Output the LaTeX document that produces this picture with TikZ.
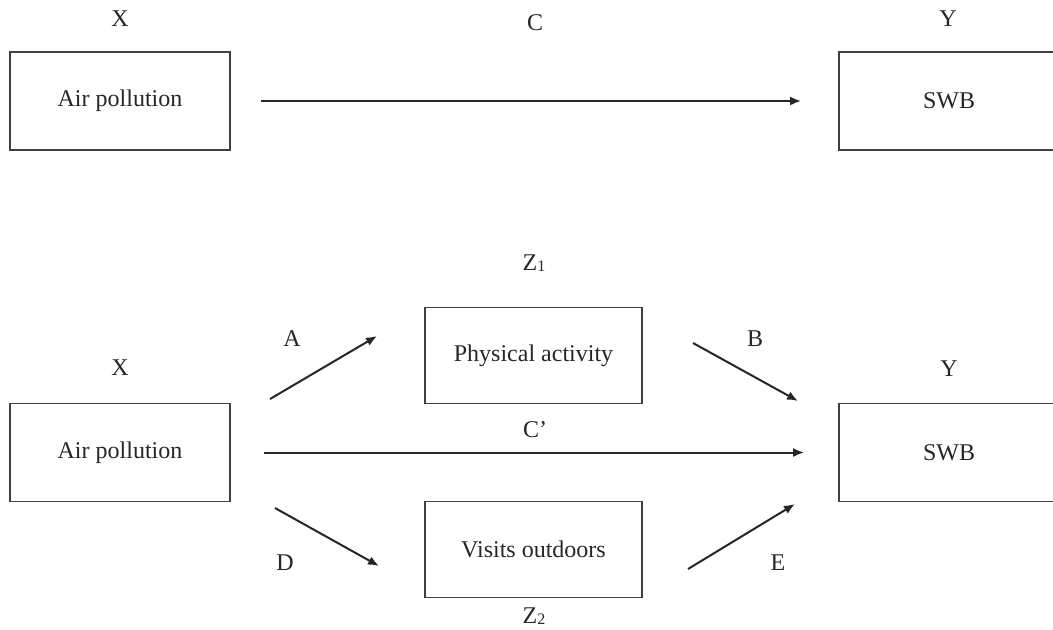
\documentclass[tikz,border=0pt]{standalone}
\usepackage{fontspec}
\setmainfont{Liberation Serif}
\usetikzlibrary{arrows.meta}
\begin{document}
\begin{tikzpicture}[x=0.5pt,y=-0.5pt,
  every node/.style={font=\fontsize{12}{14}\selectfont, text=black!85},
  box/.style={draw=black!75, line width=0.9pt, rectangle, minimum width=110pt, minimum height=49pt, inner sep=0pt},
  midbox/.style={box, minimum width=108.5pt, minimum height=48pt},
  lab/.style={inner sep=0pt},
  arr/.style={draw=black!85, line width=1pt, -{Latex[length=5.5pt,width=4.5pt]}}
]
\useasboundingbox (0,0) rectangle (1053,629);
% top diagram
\node[box] (air1) at (120,101) {Air pollution};
\node[box] (swb1) at (949,101) {SWB};
\node[lab] (x1) at (120,19) {X};
\node[lab] (y1) at (948,19) {Y};
\node[lab] (c) at (535,23) {C};
\draw[arr, shorten <=15pt, shorten >=18.5pt] (air1) -- (swb1);
% bottom diagram
\node[box] (air2) at (120,452.5) {Air pollution};
\node[box] (swb2) at (949,452.5) {SWB};
\node[midbox] (pa) at (533.5,355.5) {Physical activity};
\node[midbox] (vo) at (533.5,549.5) {Visits outdoors};
\node[lab] (x2) at (120,368) {X};
\node[lab] (y2) at (949,369) {Y};
\node[lab] (z1) at (534,263) {Z\raisebox{-0.15ex}{\fontsize{8}{8}\selectfont 1}};
\node[lab] (z2) at (534,616) {Z\raisebox{-0.15ex}{\fontsize{8}{8}\selectfont 2}};
\node[lab] (la) at (292,339) {A};
\node[lab] (lb) at (755,339) {B};
\node[lab] (lcp) at (535,430) {C’};
\node[lab] (ld) at (285,563) {D};
\node[lab] (le) at (778,563) {E};
\coordinate (a1) at (270,399);
\coordinate (a2) at (377,336);
\coordinate (b1) at (693,343);
\coordinate (b2) at (798,401);
\coordinate (d1) at (275,508);
\coordinate (d2) at (379,566);
\coordinate (e1) at (688,569);
\coordinate (e2) at (795,504);
\draw[arr] (a1) -- (a2);
\draw[arr] (b1) -- (b2);
\draw[arr] (d1) -- (d2);
\draw[arr] (e1) -- (e2);
\draw[arr, shorten <=16.5pt, shorten >=17pt] (air2) -- (swb2);
\end{tikzpicture}
\end{document}
